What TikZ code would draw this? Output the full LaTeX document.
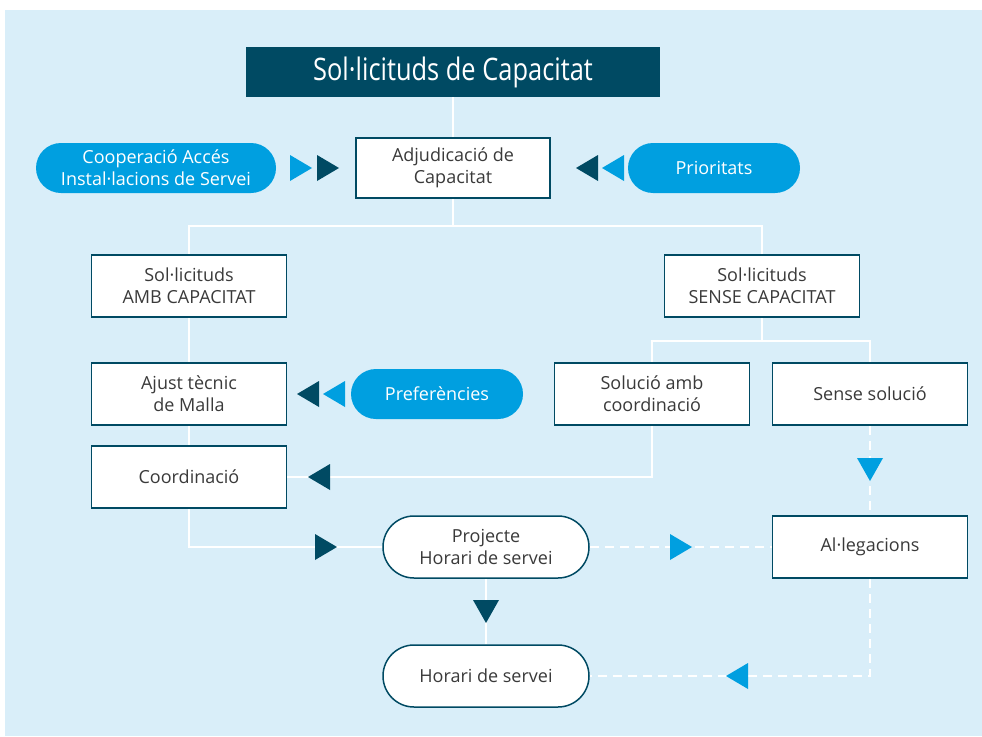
\documentclass[tikz,border=0pt]{standalone}
\usepackage{fontspec}
\setmainfont{Open Sans}
\newfontfamily\titlefont[FakeStretch=0.82]{Open Sans}
\usetikzlibrary{positioning}
\definecolor{bgblue}{HTML}{D9EEF9}
\definecolor{darkteal}{HTML}{004A63}
\definecolor{lightblue}{HTML}{009FE0}
\definecolor{txtgray}{HTML}{3A3A3A}
\pgfdeclarelayer{background}
\pgfsetlayers{background,main}
\newcommand\triR[3]{\fill[#3] (#1-22,#2-13) -- (#1,#2) -- (#1-22,#2+13) -- cycle;}
\newcommand\triL[3]{\fill[#3] (#1+22,#2-13) -- (#1,#2) -- (#1+22,#2+13) -- cycle;}
\newcommand\triD[3]{\fill[#3] (#1-13,#2-23) -- (#1,#2) -- (#1+13,#2-23) -- cycle;}
\begin{document}
\begin{tikzpicture}[x=1pt,y=-1pt,
  every node/.style={font=\fontsize{18}{22}\selectfont, text=txtgray, align=center, inner sep=0pt},
  box/.style={draw=darkteal, line width=1.5pt, fill=white, minimum width=195pt, minimum height=62pt},
  pill/.style={fill=lightblue, text=white, rounded corners=25pt, minimum height=50pt},
  opill/.style={draw=darkteal, line width=1.5pt, fill=white, rounded corners=31pt, minimum width=206pt, minimum height=62pt},
  conn/.style={draw=white, line width=2pt},
  dconn/.style={draw=white, line width=2pt, dash pattern=on 9pt off 6pt}]
\useasboundingbox (0,0) rectangle (982,736);

\node[fill=darkteal, minimum width=414pt, minimum height=50pt, text=white,
      font=\titlefont\fontsize{31}{36}\selectfont] (title) at (453,72) {Sol·licituds de Capacitat};
\node[box, minimum height=60pt, minimum width=194pt] (adj) at (453,168) {Adjudicació de\\Capacitat};
\node[pill, minimum width=240pt] (coop) at (156,168) {Cooperació Accés\\Instal·lacions de Servei};
\node[pill, minimum width=172pt] (prio) at (714,168) {Prioritats};
\node[box] (amb) at (189,286) {Sol·licituds\\AMB CAPACITAT};
\node[box] (sense) at (762,286) {Sol·licituds\\SENSE CAPACITAT};
\node[box] (ajust) at (189,394) {Ajust tècnic\\de Malla};
\node[pill, minimum width=172pt] (pref) at (437,394) {Preferències};
\node[box] (solc) at (652,394) {Solució amb\\coordinació};
\node[box] (sensesol) at (870,394) {Sense solució};
\node[box] (coord) at (189,477) {Coordinació};
\node[box] (aleg) at (870,547) {Al·legacions};
\node[opill] (proj) at (486,547) {Projecte\\Horari de servei};
\node[opill] (horari) at (486,676) {Horari de servei};

\coordinate (c1) at (453,226);
\coordinate (c2) at (762,341);

\begin{pgfonlayer}{background}
\fill[white] (0,0) rectangle (982,736);
\fill[bgblue] (5,10) rectangle (982,736);
\draw[conn] (title.south) -- (adj.north);
\draw[conn] (adj.south) -- (c1);
\draw[conn] (amb.north) |- (c1) -| (sense.north);
\draw[conn] (amb.south) -- (coord.north);
\draw[conn] (coord.south) |- (proj.west);
\draw[conn] (sense.south) -- (c2);
\draw[conn] (solc.north) |- (c2) -| (sensesol.north);
\draw[conn] (solc.south) |- (coord.east);
\draw[conn] (proj.south) -- (horari.north);
\draw[dconn] (sensesol.south) -- (aleg.north);
\draw[dconn] (proj.east) -- (aleg.west);
\draw[dconn] (aleg.south) |- (horari.east);
\end{pgfonlayer}

% arrowheads
\triR{312}{168}{lightblue}
\triR{339}{168}{darkteal}
\triL{576}{168}{darkteal}
\triL{602}{168}{lightblue}
\triL{297}{394}{darkteal}
\triL{323}{394}{lightblue}
\triL{308}{477}{darkteal}
\triR{337}{547}{darkteal}
\triD{486}{623}{darkteal}
\triD{870}{481}{lightblue}
\triR{692}{547}{lightblue}
\triL{726}{676}{lightblue}
\end{tikzpicture}
\end{document}
